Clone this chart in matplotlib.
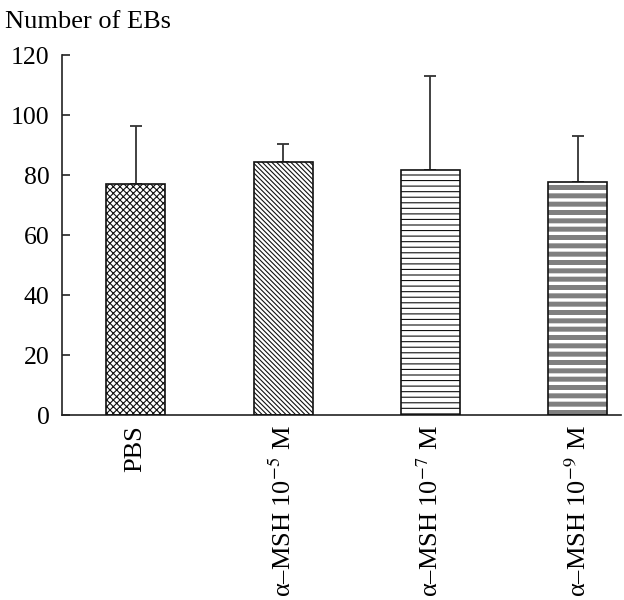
import matplotlib
matplotlib.use("Agg")
import matplotlib.pyplot as plt

plt.rcParams["font.family"] = ["Liberation Serif", "DejaVu Serif"]
plt.rcParams["mathtext.fontset"] = "stix"
plt.rcParams["hatch.linewidth"] = 0.8

# --- data -----------------------------------------------------------
groups = ["PBS",
          "\u03b1\u2013MSH 10$^{\u22125}$ M",
          "\u03b1\u2013MSH 10$^{\u22127}$ M",
          "\u03b1\u2013MSH 10$^{\u22129}$ M"]
means = [77.2, 84.4, 81.7, 77.6]
sd_up = [19.2, 5.9, 31.5, 15.5]
hatches = ["xxxxx", "\\\\\\\\\\\\\\", "---", ""]

fig = plt.figure(figsize=(6.24, 6.0), dpi=100)
ax = fig.add_axes([0.0994, 0.308, 0.895, 0.6])

x = list(range(len(groups)))

# grey stripes for the last bar: hatch colour follows edge colour,
# so paint it as an extra layer underneath
stripes = ax.bar(x[-1:], means[-1:], width=0.4, color="white",
                 edgecolor="#7f7f7f", linewidth=0, hatch="--", zorder=2)
for p in stripes:
    if hasattr(p, "set_hatch_linewidth"):
        p.set_hatch_linewidth(3.6)

bars = ax.bar(x, means, width=0.4, color="none", edgecolor="#111111",
              linewidth=1.2, zorder=3)
for b, h in zip(bars, hatches):
    b.set_hatch(h)
# white fill behind the hatched bars
ax.bar(x[:-1], means[:-1], width=0.4, color="white", linewidth=0, zorder=1.5)

ax.errorbar(x, means, yerr=[[0] * len(x), sd_up], fmt="none",
            ecolor="#333333", elinewidth=1.3, capsize=4, capthick=1.3,
            zorder=1)

ax.set_ylim(0, 120)
ax.set_xlim(-0.5, 3.29)
ax.set_yticks([0, 20, 40, 60, 80, 100, 120])
ax.set_xticks(x)
ax.set_xticklabels(groups, rotation=90, va="top", ha="center")
ax.tick_params(axis="y", direction="in", length=6, width=1.2,
               labelsize=18.5, pad=9, color="#222222")
ax.tick_params(axis="x", length=0, labelsize=19, pad=7)

for s in ["top", "right"]:
    ax.spines[s].set_visible(False)
for s in ["left", "bottom"]:
    ax.spines[s].set_linewidth(1.2)
    ax.spines[s].set_color("#222222")

fig.text(0.008, 1 - 22 / 600, "Number of EBs", fontsize=19, va="center")

fig.savefig("out.png", dpi=100)
